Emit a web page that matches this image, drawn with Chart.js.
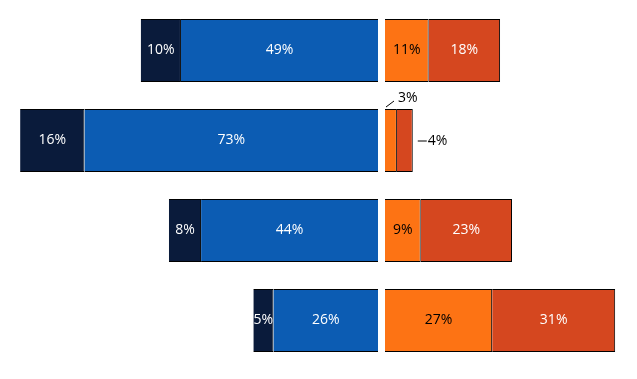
<!DOCTYPE html>
<html>
<head>
<meta charset="utf-8">
<script src="https://cdn.jsdelivr.net/npm/chart.js@4"></script>
<style>
  html, body { margin: 0; padding: 0; background: #fff; }
  #wrap { position: relative; width: 637px; height: 379px; overflow: hidden; }
  #leftChart { position: absolute; left: 0; top: 0; }
  #rightChart { position: absolute; left: 385px; top: 0; }
</style>
</head>
<body>
<div id="wrap">
  <canvas id="leftChart" width="378" height="379"></canvas>
  <canvas id="rightChart" width="252" height="379"></canvas>
</div>
<script>
// data
const categories = ['1', '2', '3', '4'];
const navyValues = [10, 16, 8, 5];
const blueValues = [49, 73, 44, 26];
const orangeValues = [11, 3, 9, 27];
const redValues = [18, 4, 23, 31];

const FONT = '14px "Open Sans", "DejaVu Sans", sans-serif';

// draws the percentage inside each bar, small bars (when allowed) get a label outside with a short leader line
const barLabels = {
    id: 'barLabels',
    afterDatasetsDraw(chart) {
        const ctx = chart.ctx;
        ctx.save();
        ctx.font = FONT;
        ctx.textBaseline = 'middle';
        chart.data.datasets.forEach((ds, di) => {
            const meta = chart.getDatasetMeta(di);
            meta.data.forEach((bar, i) => {
                const p = bar.getProps(['x', 'y', 'base', 'height']);
                const left = Math.min(p.x, p.base);
                const right = Math.max(p.x, p.base);
                const top = p.y - p.height / 2;
                const text = ds.data[i] + '%';
                const w = ctx.measureText(text).width;
                if (!ds.outside || right - left >= w + 2) {
                    ctx.fillStyle = ds.labelColor;
                    ctx.textAlign = 'center';
                    ctx.fillText(text, (left + right) / 2, p.y);
                    return;
                }
                ctx.strokeStyle = '#000';
                ctx.lineWidth = 1;
                ctx.fillStyle = '#000';
                ctx.textAlign = 'left';
                ctx.beginPath();
                if (ds.outside === 'above') {
                    ctx.moveTo(left + 1, top - 2);
                    ctx.lineTo(left + 9, top - 8);
                    ctx.stroke();
                    ctx.fillText(text, left + 13, top - 11);
                } else {
                    ctx.moveTo(right + 5, p.y + 0.5);
                    ctx.lineTo(right + 14, p.y + 0.5);
                    ctx.stroke();
                    ctx.fillText(text, right + 15, p.y + 1);
                }
            });
        });
        ctx.restore();
    }
};

function makeOptions(max, reverse) {
    return {
        indexAxis: 'y',
        responsive: false,
        animation: false,
        devicePixelRatio: 1,
        layout: { padding: { top: 5.5, bottom: 13.5, left: 0, right: 0 } },
        plugins: { legend: { display: false }, tooltip: { enabled: false } },
        datasets: { bar: { categoryPercentage: 0.7, barPercentage: 1, borderSkipped: false, borderColor: '#000' } },
        scales: {
            x: { stacked: true, min: 0, max: max, reverse: reverse, display: false },
            y: { stacked: true, display: false }
        }
    };
}

new Chart(document.getElementById('leftChart'), {
    type: 'bar',
    data: {
        labels: categories,
        datasets: [
            {
                data: blueValues,
                backgroundColor: '#0C5CB3',
                borderWidth: { top: 1, bottom: 1, left: 0, right: 0 },
                labelColor: '#fff'
            },
            {
                data: navyValues,
                backgroundColor: '#0A1B3B',
                borderWidth: { top: 1, bottom: 1, left: 0, right: 1 },
                labelColor: '#fff'
            }
        ]
    },
    options: makeOptions(94, true),
    plugins: [barLabels]
});

new Chart(document.getElementById('rightChart'), {
    type: 'bar',
    data: {
        labels: categories,
        datasets: [
            {
                data: orangeValues,
                backgroundColor: '#FD7314',
                borderWidth: { top: 1, bottom: 1, left: 0, right: 1 },
                labelColor: '#000',
                outside: 'above'
            },
            {
                data: redValues,
                backgroundColor: '#D5471F',
                borderWidth: { top: 1, bottom: 1, left: 0, right: 1 },
                labelColor: '#fff',
                outside: 'right'
            }
        ]
    },
    options: makeOptions(63.5, false),
    plugins: [barLabels]
});
</script>
</body>
</html>
